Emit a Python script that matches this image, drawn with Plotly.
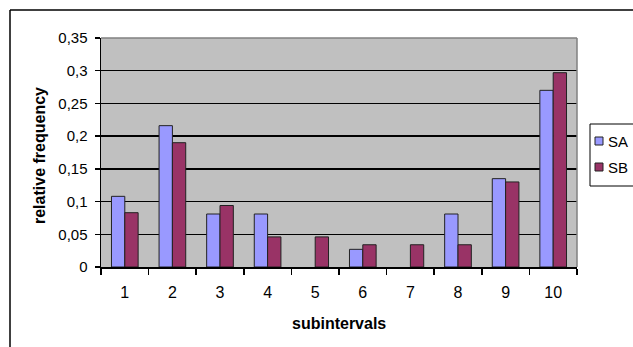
import plotly.graph_objects as go

categories = ["1", "2", "3", "4", "5", "6", "7", "8", "9", "10"]
sa_values = [0.108, 0.216, 0.081, 0.081, 0.0, 0.027, 0.0, 0.081, 0.135, 0.270]
sb_values = [0.083, 0.190, 0.094, 0.046, 0.046, 0.034, 0.034, 0.034, 0.130, 0.297]
y_tick_vals = [0, 0.05, 0.1, 0.15, 0.2, 0.25, 0.3, 0.35]
y_tick_text = ["0", "0,05", "0,1", "0,15", "0,2", "0,25", "0,3", "0,35"]
series_names = ["SA", "SB"]
series_colors = ["#9999FF", "#993366"]

W, H = 633, 347
L, R, T, B = 101, 577, 38, 267
pw, ph = R - L, B - T

def px(x):
    return (x - L) / pw

def py(y):
    return (B - y) / ph

FONT = "Liberation Sans, Arial, sans-serif"
OUTLINE = "#222222"

fig = go.Figure()
for name, vals, col in zip(series_names, [sa_values, sb_values], series_colors):
    fig.add_trace(go.Bar(x=categories, y=[v if v > 0 else None for v in vals], name=name,
                         marker=dict(color=col, line=dict(color=OUTLINE, width=1))))

shapes = [
    # outer chart frame (top and left edges visible)
    dict(type="line", xref="paper", yref="paper", x0=px(10), x1=px(640),
         y0=py(10), y1=py(10), line=dict(color="black", width=1.5)),
    dict(type="line", xref="paper", yref="paper", x0=px(10), x1=px(10),
         y0=py(10), y1=py(360), line=dict(color="black", width=1.5)),
    # plot area gray border top & right
    dict(type="line", xref="paper", yref="paper", x0=0, x1=1, y0=1, y1=1,
         line=dict(color="#808080", width=1.5), layer="above"),
    dict(type="line", xref="paper", yref="paper", x0=1, x1=1, y0=0, y1=1,
         line=dict(color="#808080", width=1.5), layer="above"),
    # legend box
    dict(type="rect", xref="paper", yref="paper", x0=px(590), x1=px(650),
         y0=py(186), y1=py(124), line=dict(color="black", width=1), fillcolor="white"),
]
annotations = [
    dict(text="<b>relative frequency</b>", xref="paper", yref="paper",
         x=px(39), y=py(155), textangle=-90, showarrow=False,
         font=dict(size=16, family=FONT), xanchor="center", yanchor="middle"),
    dict(text="<b>subintervals</b>", xref="paper", yref="paper",
         x=px(339), y=py(323), showarrow=False,
         font=dict(size=16, family=FONT), xanchor="center", yanchor="middle"),
]
legend_y = [141, 167]
for name, col, ly in zip(series_names, series_colors, legend_y):
    shapes.append(dict(type="rect", xref="paper", yref="paper",
                       x0=px(595), x1=px(603), y0=py(ly + 4), y1=py(ly - 4),
                       line=dict(color=OUTLINE, width=1), fillcolor=col))
    annotations.append(dict(text=name, xref="paper", yref="paper",
                            x=px(606), y=py(ly), showarrow=False, xanchor="left",
                            yanchor="middle", font=dict(size=15, family=FONT)))

fig.update_layout(
    width=W, height=H,
    margin=dict(l=L, r=W - R, t=T, b=H - B, autoexpand=False),
    paper_bgcolor="white",
    plot_bgcolor="#C0C0C0",
    barmode="group",
    bargap=0.44,
    bargroupgap=0,
    font=dict(family=FONT, size=15, color="black"),
    showlegend=False,
    xaxis=dict(type="category", tickson="boundaries", ticks="outside",
               ticklen=6, tickwidth=1.5, tickcolor="black",
               showline=True, linecolor="black", linewidth=1.5,
               showgrid=False, tickfont=dict(size=16), ticklabelstandoff=10,
               fixedrange=True),
    yaxis=dict(range=[0, 0.35], tickvals=y_tick_vals, ticktext=y_tick_text,
               ticks="outside", ticklen=5, tickwidth=1.5, tickcolor="black",
               showline=True, linecolor="black", linewidth=1.5,
               showgrid=True, gridcolor="black", gridwidth=1.5,
               zeroline=False, tickfont=dict(size=15), ticklabelstandoff=4,
               fixedrange=True),
    annotations=annotations,
    shapes=shapes,
)

fig.write_html("out.html", config={"displayModeBar": False, "staticPlot": True},
               post_script="document.body.style.margin='0';document.body.style.overflow='hidden';")
